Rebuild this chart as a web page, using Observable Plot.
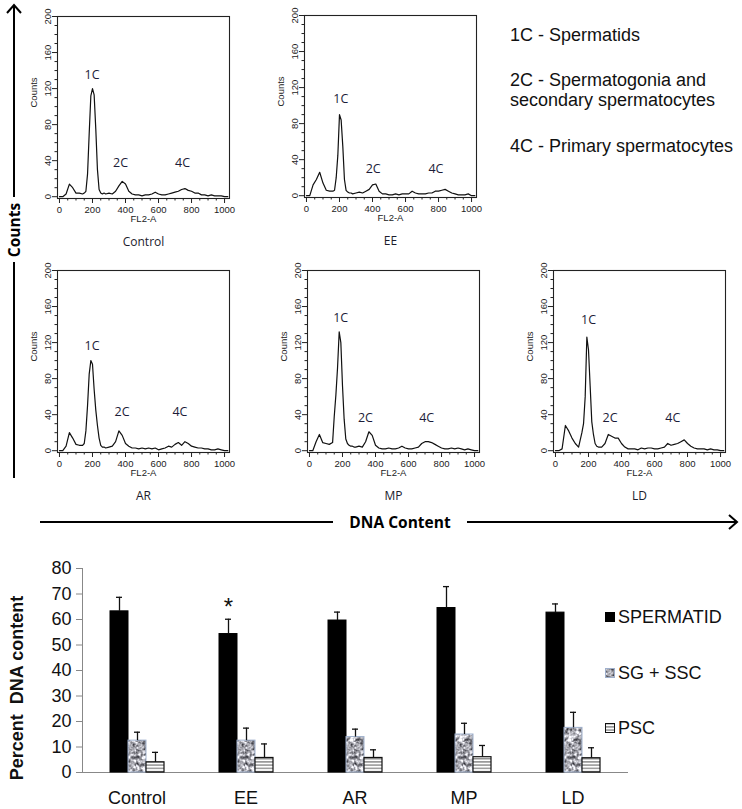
<!DOCTYPE html>
<html><head><meta charset="utf-8">
<script src="https://cdn.jsdelivr.net/npm/d3@7"></script>
<script src="https://cdn.jsdelivr.net/npm/@observablehq/plot@0.6"></script>
<style>
body{margin:0;background:#fff;}
#fig{position:relative;width:742px;height:809px;overflow:hidden;background:#fff;font-family:"Liberation Sans",Arial,sans-serif;color:#111;}
.key{position:absolute;left:510px;font-size:18px;line-height:20px;white-space:nowrap;color:#111;}
.leg{position:absolute;left:605px;font-size:18px;white-space:nowrap;color:#111;display:flex;align-items:center;height:20px;}
.leg svg{margin-right:3px;}
</style></head><body>
<div id="fig">
<svg width="0" height="0" style="position:absolute">
 <defs>
  <filter id="graniteF" x="0" y="0" width="100%" height="100%" color-interpolation-filters="sRGB">
   <feTurbulence type="fractalNoise" baseFrequency="0.28" numOctaves="2" seed="4"/>
   <feColorMatrix type="matrix" values="1.5 0 0 0 -0.07  1.5 0 0 0 -0.07  1.5 0 0 0 -0.04  0 0 0 0 1"/>
  </filter>
  <pattern id="granite" patternUnits="userSpaceOnUse" width="64" height="64">
   <rect width="64" height="64" filter="url(#graniteF)"/>
  </pattern>
  <pattern id="stripes" patternUnits="userSpaceOnUse" width="8" height="3.2">
   <rect width="8" height="3.2" fill="#fff"/>
   <rect y="0" width="8" height="1.4" fill="#8c8c8c"/>
  </pattern>
 </defs>
</svg>
<div class="key" style="top:25px">1C - Spermatids</div>
<div class="key" style="top:70px">2C - Spermatogonia and<br>secondary spermatocytes</div>
<div class="key" style="top:136px">4C - Primary spermatocytes</div>
<div class="leg" style="top:607px"><svg width="10" height="10"><rect x="0.5" y="0.5" width="9" height="9" fill="#000" stroke="#000"/></svg>SPERMATID</div>
<div class="leg" style="top:663px"><svg width="10" height="10"><rect x="0.5" y="0.5" width="9" height="9" fill="url(#granite)" stroke="#9fb0cc"/></svg>SG + SSC</div>
<div class="leg" style="top:718px"><svg width="10" height="10"><rect x="0.5" y="0.5" width="9" height="9" fill="url(#stripes)" stroke="#111"/></svg>PSC</div>
<div style="position:absolute;left:17px;top:688px;transform:translate(-50%,-50%) rotate(-90deg);font-size:18px;font-weight:700;white-space:pre;color:#111;">Percent  DNA content</div>
</div>
<script>
// ---------- histogram data (FL2-A channel vs counts) ----------
const channel = [0,20,40,60,80,100,120,140,150,160,170,180,190,200,210,220,230,240,250,260,270,280,300,320,340,360,380,400,420,440,460,480,500,520,540,560,580,600,620,640,660,680,700,720,740,760,780,800,820,840,860,880,900,920,940,960,980,1000,1020];
const controlCounts = [0,0,3,14,10,4,4,3, 4,6,25,70,112,120,113,75,30,8,4,3,4,3, 4,3,6,12,17,14,6,3,2,2, 1,2,2,3,5,3,2,2,3,4, 5,6,8,9,7,6,4,4,2,2, 1,2,1,1,1,0,0];
const eeCounts      = [0,0,12,18,26,14,6,5, 5,5,6,20,45,90,84,55,18,6,4,3,3,2, 3,4,3,5,7,12,13,5,2,2, 1,1,2,1,2,2,2,5,3,2, 2,2,3,3,5,5,6,7,5,3, 2,1,1,1,2,0,0];
const arCounts      = [0,0,5,20,14,7,6,6, 8,22,50,85,100,96,68,45,28,14,6,4,4,3, 4,5,10,22,17,8,5,3,3,2, 3,2,3,2,3,1,2,3,5,4, 7,9,6,10,8,5,4,3,3,2, 2,1,1,2,1,0,0];
const mpCounts      = [0,0,10,18,9,8,7,9, 38,62,92,132,120,72,35,13,8,6,5,5,4,4, 5,4,10,21,17,6,3,2,2,3, 2,2,3,5,3,2,2,3,4,8, 10,10,9,7,5,3,2,2,3,2, 3,2,1,2,1,0,0];
const ldCounts      = [0,0,2,28,22,14,8,4, 12,20,30,60,126,112,72,32,18,8,5,4,4,4, 8,18,16,14,14,8,4,2,2,2, 1,3,2,3,3,2,2,3,4,8, 6,7,8,10,12,8,5,3,2,2, 2,1,2,1,1,0,0];
const peakLabels = ["1C","2C","4C"];
const controlPeakX = [197,370,746], controlPeakY = [135,37,37];
const eePeakX = [208,404,784], eePeakY = [107,30,30];
const arPeakX = [197,379,730], arPeakY = [116,43,43];
const mpPeakX = [189,339,710], mpPeakY = [147,36,36];
const ldPeakX = [200,331,711], ldPeakY = [145,36,36];
const histYTicks = [0,40,80,120,160,200];
const histYMinor = [10,20,30,50,60,70,90,100,110,130,140,150,170,180,190];
const histXTicks = [0,200,400,600,800,1000];
const histXMinor = [50,100,150,250,300,350,450,500,550,650,700,750,850,900,950];

// ---------- bar chart data ----------
const groups = ["Control","EE","AR","MP","LD"];
const series = ["SPERMATID","SG + SSC","PSC"];
const spermatid    = [63.2,54.3,59.6,64.5,62.7];
const spermatidErr = [5.5,5.8,3.3,8.4,3.4];
const sgssc        = [12.5,12.5,13.9,14.9,17.5];
const sgsscErr     = [3.3,4.9,3.1,4.4,6.1];
const psc          = [4.0,5.7,5.7,6.0,5.6];
const pscErr       = [3.9,5.5,3.2,4.6,4.1];
const significant  = ["EE"];
const barYTicks = [0,10,20,30,40,50,60,70,80];

const fig = document.getElementById("fig");
function place(el, left, top){ el.style.position="absolute"; el.style.left=left+"px"; el.style.top=top+"px"; el.style.overflow="visible"; fig.appendChild(el); }

function hist(counts, px, py, name){
  const data = channel.map((x,i)=>({x, y: counts[i]}));
  const peaks = peakLabels.map((t,i)=>({label:t, x:px[i], y:py[i]}));
  return Plot.plot({
    width: 221, height: 245,
    marginLeft: 44, marginRight: 5, marginTop: 6, marginBottom: 57,
    x: {domain: [-12, 1030]},
    y: {domain: [-2, 200]},
    style: {fontFamily: "Liberation Sans, Arial, sans-serif", fontSize: "9.5px", color: "#222", background: "transparent"},
    marks: [
      Plot.axisY(histYMinor, {tickSize: 2.5, tickFormat: () => "", label: null}),
      Plot.axisY(histYTicks, {tickSize: 5, tickPadding: 2, tickRotate: -90, tickFormat: "d", label: null}),
      Plot.axisX(histXMinor, {tickSize: 2.5, tickFormat: () => "", label: null}),
      Plot.axisX(histXTicks, {tickSize: 5, tickPadding: 3, tickFormat: "d", label: "FL2-A", labelAnchor: "center", labelArrow: "none", labelOffset: 23}),
      Plot.frame({stroke: "#222", strokeWidth: 1.1}),
      Plot.line(data, {x: "x", y: "y", stroke: "#111", strokeWidth: 1.2}),
      Plot.text(peaks, {x: "x", y: "y", text: "label", fontSize: 12.5, fontFamily: "Open Sans, sans-serif", fill: "#1c1c38"}),
      Plot.text(["Counts"], {frameAnchor: "left", rotate: -90, dx: -24, fontSize: 9.5}),
      Plot.text([name], {frameAnchor: "bottom", dy: 47, fontSize: 12, fontFamily: "Open Sans, sans-serif", fill: "#1c1c2c"})
    ]
  });
}
place(hist(controlCounts, controlPeakX, controlPeakY, "Control"), 13, 10);
place(hist(eeCounts, eePeakX, eePeakY, "EE"), 260, 9);
place(hist(arCounts, arPeakX, arPeakY, "AR"), 13, 264);
place(hist(mpCounts, mpPeakX, mpPeakY, "MP"), 263, 264);
place(hist(ldCounts, ldPeakX, ldPeakY, "LD"), 509, 264);

// ---------- big axis arrows ----------
const ns = "http://www.w3.org/2000/svg";
const ov = document.createElementNS(ns, "svg");
ov.setAttribute("width", 742); ov.setAttribute("height", 540);
ov.innerHTML = `
<g stroke="#000" stroke-width="2" fill="none">
 <line x1="14" y1="5" x2="14" y2="197"/>
 <line x1="14" y1="262" x2="14" y2="478"/>
 <polyline points="7,13 14,5 21,13"/>
 <line x1="40" y1="522" x2="333" y2="522"/>
 <line x1="467" y1="522" x2="737" y2="522"/>
 <polyline points="729,515 737,522 729,529"/>
</g>
<text transform="translate(14,230) rotate(-90)" text-anchor="middle" dominant-baseline="central" font-family="Open Sans, sans-serif" font-weight="700" font-size="15.5" fill="#000">Counts</text>
<text x="400" y="522" text-anchor="middle" dominant-baseline="central" font-family="Open Sans, sans-serif" font-weight="700" font-size="15.5" fill="#000">DNA Content</text>`;
place(ov, 0, 0);

// ---------- bar chart ----------
const rows = [];
groups.forEach((g,i)=>{
  rows.push({group:g, series:"SPERMATID", value:spermatid[i], err:spermatidErr[i]});
  rows.push({group:g, series:"SG + SSC", value:sgssc[i], err:sgsscErr[i]});
  rows.push({group:g, series:"PSC", value:psc[i], err:pscErr[i]});
});
const up = d => d.value + d.err;
const bars = Plot.plot({
  width: 742, height: 259,
  marginTop: 18, marginBottom: 37, marginLeft: 74, marginRight: 114,
  fx: {domain: groups, padding: 0, insetLeft: 6, label: null},
  x: {domain: series, padding: 0, insetLeft: 27, insetRight: 27, axis: null},
  y: {domain: [0, 80]},
  style: {fontFamily: "Liberation Sans, Arial, sans-serif", fontSize: "18px", color: "#111", background: "transparent"},
  marks: [
    Plot.axisY(barYTicks, {tickSize: 6, tickPadding: 5, label: null, stroke: "#888"}),
    Plot.frame({anchor: "left", stroke: "#888", facet: "super"}),
    Plot.frame({anchor: "bottom", stroke: "#888", facet: "super"}),
    Plot.axisFx({anchor: "bottom", tickSize: 0, tickPadding: 19, label: null, fontSize: 18}),
    Plot.barY(rows.filter(d=>d.series==="SPERMATID"), {fx: "group", x: "series", y: "value", fill: "#000", stroke: "#000"}),
    Plot.barY(rows.filter(d=>d.series==="SG + SSC"), {fx: "group", x: "series", y: "value", fill: "url(#granite)", stroke: "#9fb0cc"}),
    Plot.barY(rows.filter(d=>d.series==="PSC"), {fx: "group", x: "series", y: "value", fill: "url(#stripes)", stroke: "#111", strokeWidth: 1.2}),
    Plot.ruleX(rows, {fx: "group", x: "series", y1: "value", y2: up, stroke: "#111", strokeWidth: 1.3}),
    Plot.tickY(rows, {fx: "group", x: "series", y: up, insetLeft: 6, insetRight: 6, stroke: "#111", strokeWidth: 1.3}),
    Plot.text(rows.filter(d=>d.series==="SPERMATID" && significant.includes(d.group)), {fx: "group", x: "series", y: up, text: () => "*", dy: -12, fontSize: 24, fill: "#111"})
  ]
});
place(bars, 0, 550);
</script>
</body></html>
